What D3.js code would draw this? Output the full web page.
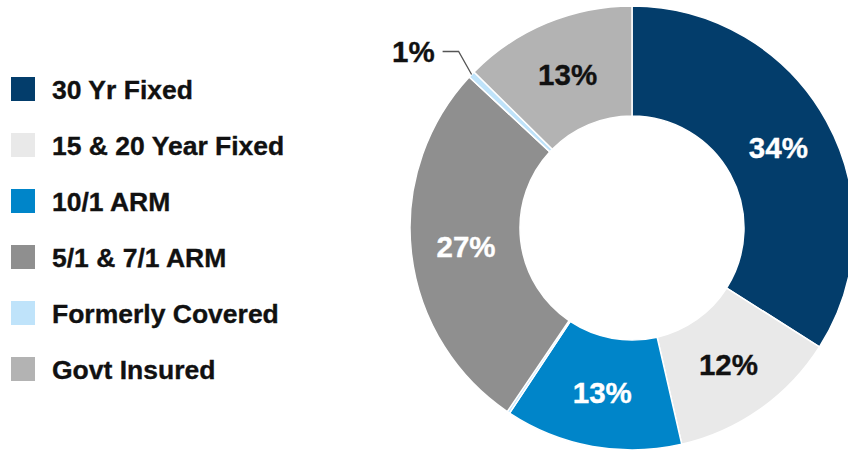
<!DOCTYPE html>
<html>
<head>
<meta charset="utf-8">
<script src="https://cdn.jsdelivr.net/npm/d3@7/dist/d3.min.js"></script>
<style>
  html, body { margin: 0; padding: 0; background: #ffffff; }
  svg { display: block; font-family: "Liberation Sans", Arial, Helvetica, sans-serif; }
</style>
</head>
<body>
<svg id="chart" width="848" height="450"></svg>
<script>
// Legend categories and their colours
const categories = ["30 Yr Fixed", "15 & 20 Year Fixed", "10/1 ARM", "5/1 & 7/1 ARM", "Formerly Covered", "Govt Insured"];
const categoryColors = ["#033d6b", "#e9e9e9", "#0085c9", "#8f8f8f", "#bfe3fa", "#b3b3b3"];

// Donut slices, clockwise from 12 o'clock (share of balance, %)
const sliceCategory = ["30 Yr Fixed", "15 & 20 Year Fixed", "10/1 ARM", "Formerly Covered", "5/1 & 7/1 ARM", "Formerly Covered", "Govt Insured"];
const sliceValues = [34.0, 12.4, 12.9, 0.2, 27.4, 0.5, 12.6];

const svg = d3.select("#chart");
const color = d3.scaleOrdinal().domain(categories).range(categoryColors);
const darkSlices = new Set(["30 Yr Fixed", "10/1 ARM", "5/1 & 7/1 ARM"]);
const pctText = v => Math.round(v) + "%";

// ---- Legend ----
const legendY = d3.scalePoint().domain(categories).range([89, 369]);
const legend = svg.append("g");
const rows = legend.selectAll("g").data(categories).join("g")
  .attr("transform", d => `translate(0,${legendY(d)})`);
rows.append("rect")
  .attr("x", 11).attr("y", -12).attr("width", 24).attr("height", 24)
  .attr("fill", d => color(d));
rows.append("text")
  .attr("x", 52).attr("y", 0).attr("dy", "0.36em")
  .attr("font-size", 26.5).attr("font-weight", "bold")
  .attr("fill", "#111").attr("stroke", "#111").attr("stroke-width", 0.35)
  .text(d => d);

// ---- Donut ----
const cx = 632, cy = 228, outerR = 222, innerR = 112;
const pie = d3.pie().sort(null).value(d => d.value);
const arcs = pie(sliceValues.map((v, i) => ({ value: v, cat: sliceCategory[i] })));
const arc = d3.arc().innerRadius(innerR).outerRadius(outerR);

const donut = svg.append("g").attr("transform", `translate(${cx},${cy})`);
donut.selectAll("path").data(arcs).join("path")
  .attr("d", arc)
  .attr("fill", d => color(d.data.cat))
  .attr("stroke", "#ffffff").attr("stroke-width", 1.5).attr("stroke-linejoin", "miter");

// In-slice labels for larger slices
donut.selectAll("text.inner").data(arcs.filter(d => d.data.value >= 5)).join("text")
  .attr("class", "inner")
  .attr("transform", d => `translate(${arc.centroid(d)})`)
  .attr("text-anchor", "middle").attr("dy", "0.36em")
  .attr("font-size", 29.5).attr("font-weight", "bold")
  .attr("fill", d => darkSlices.has(d.data.cat) ? "#ffffff" : "#111111")
  .attr("stroke", d => darkSlices.has(d.data.cat) ? "#ffffff" : "#111111")
  .attr("stroke-width", 0.35)
  .text(d => pctText(d.data.value));

// Call-out label for the small slice that carries a value label
const callouts = arcs.filter(d => d.data.value >= 0.5 && d.data.value < 5);
callouts.forEach(d => {
  const mid = (d.startAngle + d.endAngle) / 2;
  const p0 = [outerR * Math.sin(mid), -outerR * Math.cos(mid)];
  const p1 = [p0[0] - 13, p0[1] - 23];
  const p2 = [p1[0] - 16, p1[1]];
  donut.append("path")
    .attr("d", d3.line()([p0, p1, p2]))
    .attr("fill", "none").attr("stroke", "#555").attr("stroke-width", 1.3);
  donut.append("text")
    .attr("x", p2[0] - 8).attr("y", p2[1]).attr("dy", "0.36em")
    .attr("text-anchor", "end")
    .attr("font-size", 29.5).attr("font-weight", "bold")
    .attr("fill", "#111").attr("stroke", "#111").attr("stroke-width", 0.35)
    .text(pctText(d.data.value));
});
</script>
</body>
</html>
